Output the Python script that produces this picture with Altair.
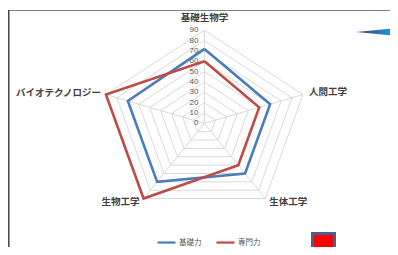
import altair as alt
import pandas as pd
import numpy as np

categories = ["基礎生物学", "人間工学", "生体工学", "生物工学", "バイオテクノロジー"]
series_names = ["基礎力", "専門力"]
kiso = [72, 60, 60, 70, 70]
senmon = [60, 50, 50, 90, 90]
ticks = [0, 10, 20, 30, 40, 50, 60, 70, 80, 90]
colors = ["#4a7ebb", "#be4b48"]

n = len(categories)
angles = [2 * np.pi * i / n for i in range(n)]
rmax = ticks[-1]


def polar(v, i):
    a = angles[i]
    return float(v * np.sin(a)), float(v * np.cos(a))


rows = []
for s, vals in zip(series_names, [kiso, senmon]):
    for k in range(n + 1):
        i = k % n
        x, y = polar(vals[i], i)
        rows.append(dict(series=s, order=k, x=x, y=y))
series_df = pd.DataFrame(rows)

grid_rows = []
for lv in ticks[1:]:
    for k in range(n + 1):
        i = k % n
        x, y = polar(lv, i)
        grid_rows.append(dict(level=lv, order=k, x=x, y=y))
grid_df = pd.DataFrame(grid_rows)

spoke_rows = []
for i in range(n):
    for o, v in enumerate([0, rmax]):
        x, y = polar(v, i)
        spoke_rows.append(dict(spoke=i, order=o, x=x, y=y))
spoke_df = pd.DataFrame(spoke_rows)

tick_df = pd.DataFrame({"x": [0.0] * len(ticks), "y": [float(t) for t in ticks],
                        "label": [str(t) for t in ticks]})

cat_rows = []
for i, c in enumerate(categories):
    x, y = polar(rmax, i)
    cat_rows.append(dict(cat=c, x=x, y=y))
cat_df = pd.DataFrame(cat_rows)

W, H = 382, 239
xs = alt.Scale(domain=[-170.7, 161.2], nice=False, zero=False)
ys = alt.Scale(domain=[-119.7, 111.6], nice=False, zero=False)
X = alt.X("x:Q", scale=xs, axis=None)
Y = alt.Y("y:Q", scale=ys, axis=None)
FONT = "Noto Sans CJK JP"

grid = alt.Chart(grid_df).mark_line(color="#d9d9d9", strokeWidth=1).encode(
    x=X, y=Y, order="order:Q", detail="level:N")
spokes = alt.Chart(spoke_df).mark_line(color="#d9d9d9", strokeWidth=1).encode(
    x=X, y=Y, order="order:Q", detail="spoke:N")

lines = alt.Chart(series_df).mark_line(strokeWidth=2.6, strokeJoin="miter").encode(
    x=X, y=Y, order="order:Q",
    color=alt.Color("series:N", scale=alt.Scale(domain=series_names, range=colors),
                    sort=series_names,
                    legend=alt.Legend(orient="none", legendX=148, legendY=224,
                                      direction="horizontal", title=None,
                                      symbolType="stroke", symbolSize=324,
                                      symbolStrokeWidth=2.2, labelFontSize=7.5,
                                      labelFont=FONT, labelColor="#595959",
                                      labelOffset=2, columnPadding=10)))

tick_text = alt.Chart(tick_df).mark_text(align="right", baseline="middle", dx=-6,
                                         fontSize=8, color="#595959", font="Liberation Sans").encode(
    x=X, y=Y, text="label:N")

label_specs = [
    dict(align="center", dx=0, dy=-12),
    dict(align="left", dx=6, dy=-3),
    dict(align="left", dx=4, dy=3),
    dict(align="right", dx=-4, dy=3),
    dict(align="right", dx=-5, dy=-2),
]
cat_layers = []
for c, spec in zip(categories, label_specs):
    cat_layers.append(
        alt.Chart(cat_df).transform_filter(alt.datum.cat == c).mark_text(
            baseline="middle", fontSize=9.5, fontWeight="bold", color="#404040",
            font=FONT, **spec).encode(x=X, y=Y, text="cat:N"))

one = pd.DataFrame({"a": [0]})
frame_top = alt.Chart(one).mark_rule(color="#7f7f7f", strokeWidth=1).encode(
    x=alt.value(0), x2=alt.value(W), y=alt.value(2.5))
frame_left = alt.Chart(one).mark_rule(color="#404040", strokeWidth=1.5).encode(
    x=alt.value(0.8), y=alt.value(2), y2=alt.value(H))

arrow = alt.Chart(one).mark_point(
    shape="M -1 0 L 1 -0.19 L 1 0.19 Z", filled=True, size=1764, opacity=1,
    fill=alt.LinearGradient(gradient="linear", x1=0, y1=0, x2=1, y2=0,
                            stops=[alt.GradientStop(color="#2f4f8f", offset=0),
                                   alt.GradientStop(color="#2f6fb0", offset=0.5),
                                   alt.GradientStop(color="#00b0f0", offset=1)]),
    strokeWidth=0).encode(x=alt.value(369), y=alt.value(24))

square = alt.Chart(one).mark_rect(fill="#ff0000", stroke="#44638f", strokeWidth=3).encode(
    x=alt.value(304.5), x2=alt.value(326.5), y=alt.value(225.5), y2=alt.value(252))

chart = alt.layer(frame_top, frame_left, grid, spokes, tick_text, lines, *cat_layers,
                  arrow, square).properties(
    width=W, height=H, autosize=alt.AutoSizeParams(type="none"), padding=0
).configure_view(stroke=None)

chart.save("out.html", embed_options={"renderer": "svg", "actions": False})
